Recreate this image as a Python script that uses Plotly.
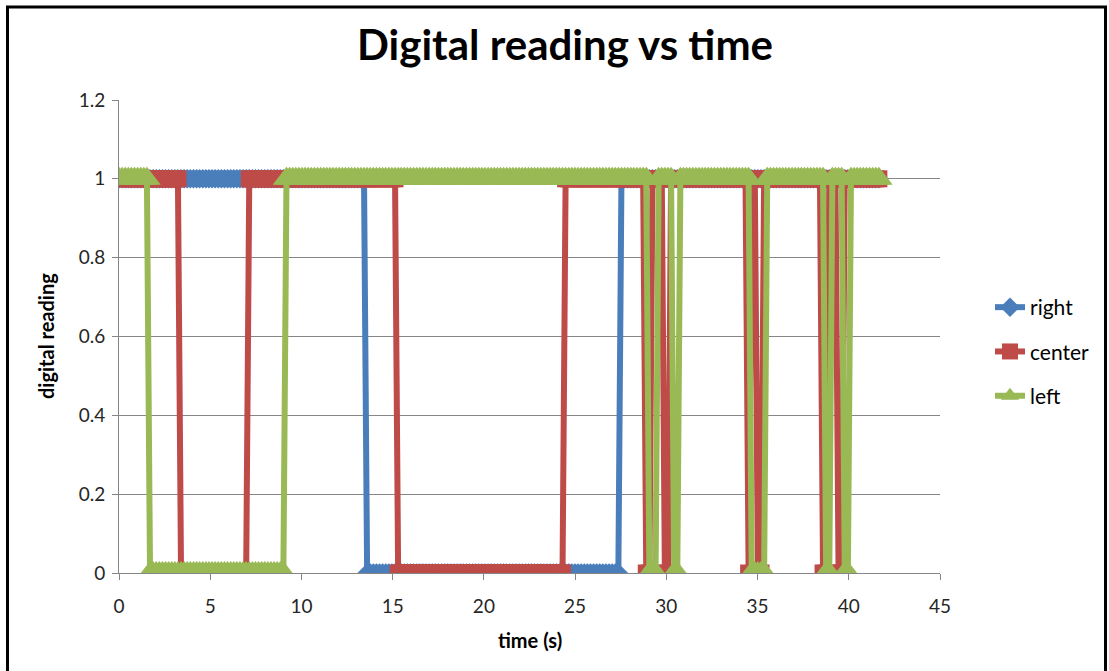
import plotly.graph_objects as go

# Digital sensor readings (1 = line detected, 0 = not detected),
# one character per sample, grouped by ten samples.
SAMPLE_PERIOD_S = 0.17

right_readings = (
    "1111111111 1111111111 1111111111 1111111111 1111111111 "
    "1111111111 1111111111 1111111111 0000000000 0000000000 "
    "0000000000 0000000000 0000000000 0000000000 0000000000 "
    "0000000000 0011111111 1111111111 1111111111 1111111111 "
    "1111111111 1111111111 1111111111 1111111111 111111"
)
center_readings = (
    "1111111111 1111111111 0000000000 0000000000 0011111111 "
    "1111111111 1111111111 1111111111 1111111111 0000000000 "
    "0000000000 0000000000 0000000000 0000000000 0000111111 "
    "1111111111 1111111111 0011110011 1111111111 1111111111 "
    "1110110011 1111111111 1111111001 1100111111 111111"
)
left_readings = (
    "1111111111 0000000000 0000000000 0000000000 0000000000 "
    "0000111111 1111111111 1111111111 1111111111 1111111111 "
    "1111111111 1111111111 1111111111 1111111111 1111111111 "
    "1111111111 1111111111 1000111110 0111111111 1111111111 "
    "1111000001 1111111111 1111111100 1111001111 111111"
)

series_names = ["right", "center", "left"]
series_colors = ["#4A7EBB", "#BE4B48", "#98B954"]
series_symbols = ["diamond", "square", "triangle-up"]
marker_sizes = [15, 17, 24]
x_ticks = [0, 5, 10, 15, 20, 25, 30, 35, 40, 45]
y_ticks = [0, 0.2, 0.4, 0.6, 0.8, 1, 1.2]
y_tick_labels = ["0", "0.2", "0.4", "0.6", "0.8", "1", "1.2"]


def parse(readings):
    return [int(c) for c in readings if c in "01"]


series_values = [parse(right_readings), parse(center_readings), parse(left_readings)]
time_s = [round(i * SAMPLE_PERIOD_S, 2) for i in range(len(series_values[0]))]

FONT = "Lato, 'Open Sans', sans-serif"
GRID = "#868686"

fig = go.Figure()
for name, values, color, symbol, msize in zip(
    series_names, series_values, series_colors, series_symbols, marker_sizes
):
    fig.add_trace(
        go.Scatter(
            x=time_s,
            y=values,
            name=name,
            mode="lines+markers",
            line=dict(color=color, width=6),
            marker=dict(symbol=symbol, size=msize, color=color, line=dict(width=0)),
            legendgroup=name,
        )
    )

# plot area in pixels: left 119, right 940, top 100, bottom 573
W, H = 1109, 671
L, R, T, B = 119, 169, 100, 98
pw, ph = W - L - R, H - T - B


def px_x(px):
    return (px - L) / pw


def px_y(py):
    return (H - B - py) / ph


fig.update_layout(
    width=W,
    height=H,
    margin=dict(l=L, r=R, t=T, b=B),
    paper_bgcolor="white",
    plot_bgcolor="white",
    font=dict(family=FONT, size=19, color="#262626"),
    title=dict(
        text="<b>Digital reading vs time</b>",
        x=565 / W,
        xanchor="center",
        y=1 - 45 / H,
        yanchor="middle",
        font=dict(family=FONT, size=42, color="#000000"),
    ),
    xaxis=dict(
        range=[0, 45],
        tickvals=x_ticks,
        ticks="outside",
        ticklen=6,
        tickcolor=GRID,
        showline=True,
        linecolor=GRID,
        linewidth=1,
        showgrid=False,
        zeroline=False,
        ticklabelstandoff=10,
        tickfont=dict(size=19),
    ),
    yaxis=dict(
        range=[0, 1.2],
        tickvals=y_ticks,
        ticktext=y_tick_labels,
        ticks="outside",
        ticklen=6,
        tickcolor=GRID,
        showline=True,
        linecolor=GRID,
        linewidth=1,
        showgrid=True,
        gridcolor=GRID,
        gridwidth=1,
        zeroline=False,
        ticklabelstandoff=3,
        tickfont=dict(size=19),
    ),
    legend=dict(
        x=px_x(990),
        y=px_y(287),
        xanchor="left",
        yanchor="top",
        font=dict(family=FONT, size=21, color="#000000"),
        tracegroupgap=14,
        bgcolor="rgba(0,0,0,0)",
    ),
    annotations=[
        dict(
            text="<b>digital reading</b>",
            xref="paper",
            yref="paper",
            x=px_x(46),
            y=px_y(336),
            xanchor="center",
            yanchor="middle",
            textangle=-90,
            showarrow=False,
            font=dict(family=FONT, size=20, color="#000000"),
        ),
        dict(
            text="<b>time (s)</b>",
            xref="paper",
            yref="paper",
            x=px_x(530),
            y=px_y(640),
            xanchor="center",
            yanchor="middle",
            showarrow=False,
            font=dict(family=FONT, size=20, color="#000000"),
        ),
    ],
    shapes=[
        dict(
            type="rect",
            xref="paper",
            yref="paper",
            x0=px_x(7.5),
            x1=px_x(1105.5),
            y0=px_y(690),
            y1=px_y(7),
            line=dict(color="#000000", width=3),
            fillcolor="rgba(0,0,0,0)",
            layer="below",
        )
    ],
)

fig.write_html("out.html")
